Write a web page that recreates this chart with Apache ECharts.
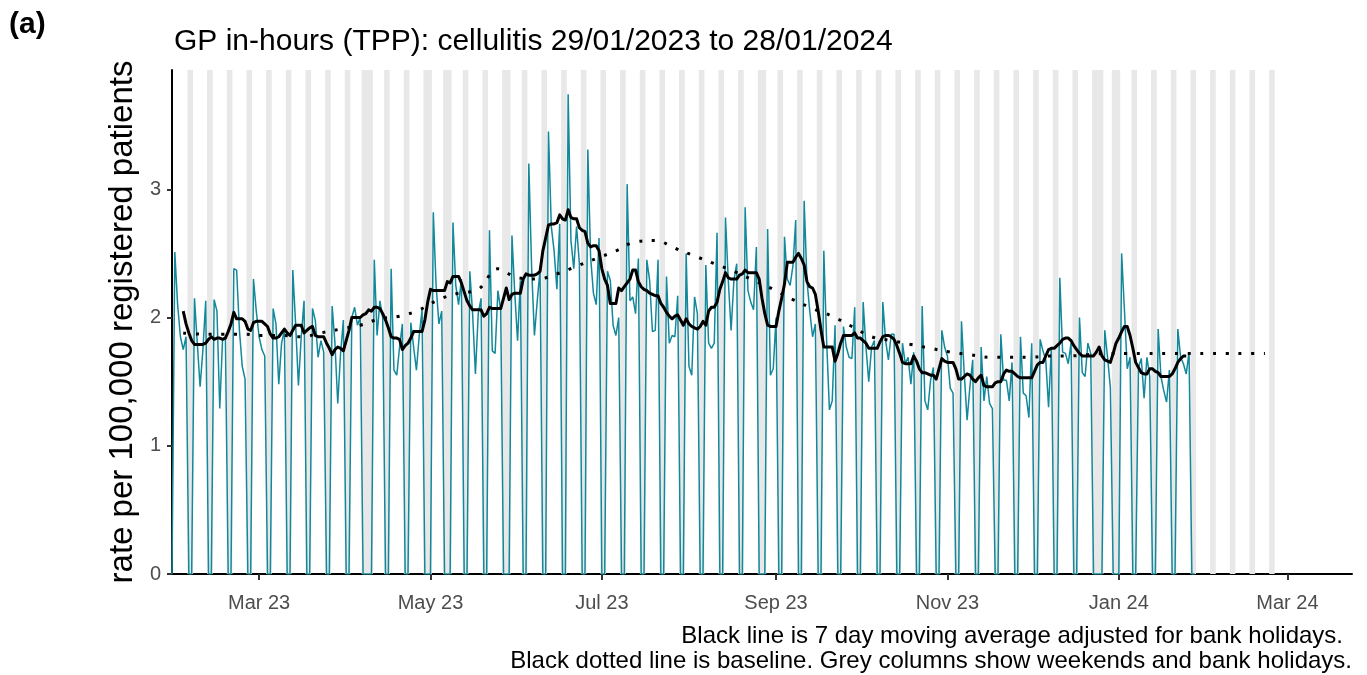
<!DOCTYPE html>
<html>
<head>
<meta charset="utf-8">
<script src="https://cdn.jsdelivr.net/npm/echarts@6/dist/echarts.min.js"></script>
<style>
  html, body { margin: 0; padding: 0; background: #fff; }
  #chart { width: 1367px; height: 675px; }
</style>
</head>
<body>
<div id="chart"></div>
<script>
// daily rate per 100,000, one value per day from Sun 29/01/2023 (rows = Sun..Sat)
const dailyRate = [
  0, 2.51, 2.10, 1.85, 1.75, 1.85, 0,
  0, 2.15, 1.80, 1.46, 1.75, 2.13, 0,
  0, 2.14, 2.05, 1.29, 1.83, 1.85, 0,
  0, 2.38, 2.37, 1.90, 1.62, 1.52, 0,
  0, 2.30, 2.05, 1.85, 1.75, 1.70, 0,
  0, 2.07, 1.95, 1.48, 1.80, 1.90, 0,
  0, 2.37, 1.95, 1.47, 1.85, 2.13, 0,
  0, 2.07, 1.98, 1.69, 1.82, 1.73, 0,
  0, 2.09, 1.80, 1.33, 1.72, 1.98, 0,
  0, 2.00, 2.08, 1.94, 2.00, 0, 0,
  0, 0, 2.45, 1.86, 2.13, 2.00, 0,
  0, 2.38, 1.59, 1.55, 1.77, 1.95, 0,
  0, 1.96, 1.77, 1.59, 1.86, 2.06, 0,
  0, 0, 2.82, 2.25, 1.95, 2.05, 0,
  0, 0, 2.74, 2.25, 2.10, 2.30, 0,
  0, 2.36, 2.03, 1.56, 2.03, 2.15, 0,
  0, 2.68, 1.74, 1.72, 2.21, 2.06, 0,
  0, 0, 2.64, 2.19, 1.82, 2.29, 0,
  0, 3.20, 2.39, 1.86, 2.13, 2.37, 0,
  0, 3.45, 2.71, 2.52, 2.22, 2.73, 0,
  0, 3.74, 2.60, 2.38, 2.71, 2.42, 0,
  0, 3.31, 2.47, 2.19, 2.10, 2.62, 0,
  0, 2.36, 2.29, 1.94, 1.86, 2.00, 0,
  0, 3.04, 2.13, 2.16, 2.03, 2.46, 0,
  0, 2.45, 2.29, 1.89, 1.90, 2.45, 0,
  0, 2.32, 1.80, 1.86, 1.85, 2.17, 0,
  0, 2.50, 1.62, 1.55, 2.16, 2.03, 0,
  0, 2.41, 1.80, 1.76, 1.80, 2.66, 0,
  0, 2.78, 2.29, 1.90, 2.29, 2.42, 0,
  0, 2.86, 2.21, 2.12, 2.06, 2.55, 0,
  0, 0, 2.69, 1.55, 1.60, 2.00, 0,
  0, 2.63, 2.30, 2.25, 2.40, 2.76, 0,
  0, 2.91, 2.29, 2.05, 1.85, 1.95, 0,
  0, 2.52, 1.82, 1.28, 1.35, 1.94, 0,
  0, 1.93, 1.77, 1.69, 1.68, 2.08, 0,
  0, 2.12, 1.77, 1.50, 1.77, 1.82, 0,
  0, 2.12, 1.82, 1.67, 1.87, 1.87, 0,
  0, 1.80, 1.64, 1.69, 1.48, 1.73, 0,
  0, 2.09, 1.35, 1.28, 1.51, 1.61, 0,
  0, 1.90, 1.77, 1.70, 1.45, 1.41, 0,
  0, 1.97, 1.56, 1.20, 1.46, 1.67, 0,
  0, 1.77, 1.35, 1.54, 1.33, 1.29, 0,
  0, 1.87, 1.51, 1.51, 1.35, 1.65, 0,
  0, 1.85, 1.41, 1.39, 1.22, 1.80, 0,
  0, 1.83, 1.74, 1.67, 1.30, 1.77, 0,
  0, 2.31, 1.73, 1.72, 1.64, 1.80, 0,
  0, 2.00, 1.57, 1.54, 1.80, 1.72, 0,
  0, 0, 0, 1.90, 1.69, 1.45, 0,
  0, 0, 2.50, 2.06, 1.60, 1.69, 0,
  0, 1.61, 1.68, 1.37, 1.69, 1.54, 0,
  0, 1.91, 1.54, 1.43, 1.34, 1.59, 0,
  0, 1.91, 1.69, 1.64, 1.56, 1.73, 0,
  0
];

// 7 day moving average (adjusted for bank holidays), same days, null where not shown
const movingAvg = [
  null, null, null, null,
  2.05, 1.95, 1.88, 1.82, 1.79, 1.79, 1.79,
  1.79, 1.80, 1.83, 1.85, 1.83, 1.84, 1.84,
  1.83, 1.84, 1.89, 1.95, 2.04, 1.99, 1.99,
  1.99, 1.97, 1.91, 1.90, 1.96, 1.97, 1.97,
  1.97, 1.95, 1.93, 1.87, 1.84, 1.84, 1.85,
  1.88, 1.91, 1.88, 1.86, 1.90, 1.94, 1.94,
  1.94, 1.88, 1.90, 1.92, 1.93, 1.86, 1.85,
  1.85, 1.85, 1.80, 1.76, 1.71, 1.75, 1.77,
  1.76, 1.74, 1.82, 1.90, 2.00, 2.00, 2.00,
  2.00, 2.02, 2.03, 2.06, 2.05, 2.08, 2.08,
  2.07, 2.03, 1.98, 1.92, 1.85, 1.84, 1.84,
  1.83, 1.75, 1.78, 1.80, 1.84, 1.89, 1.89,
  1.89, 1.89, 1.98, 2.12, 2.22, 2.21, 2.21,
  2.21, 2.21, 2.21, 2.28, 2.27, 2.32, 2.32,
  2.32, 2.27, 2.20, 2.13, 2.09, 2.06, 2.06,
  2.06, 2.06, 2.01, 2.03, 2.08, 2.07, 2.07,
  2.07, 2.07, 2.15, 2.23, 2.14, 2.18, 2.19,
  2.19, 2.19, 2.30, 2.34, 2.33, 2.33, 2.33,
  2.34, 2.36, 2.52, 2.62, 2.72, 2.73, 2.73,
  2.74, 2.80, 2.77, 2.76, 2.84, 2.78, 2.77,
  2.77, 2.70, 2.68, 2.67, 2.58, 2.55, 2.56,
  2.56, 2.52, 2.38, 2.30, 2.25, 2.11, 2.11,
  2.11, 2.23, 2.21, 2.24, 2.27, 2.30, 2.37,
  2.37, 2.28, 2.24, 2.22, 2.21, 2.19, 2.18,
  2.17, 2.17, 2.11, 2.08, 2.04, 2.01, 1.99,
  2.01, 2.02, 1.98, 1.94, 1.99, 1.95, 1.93,
  1.92, 1.91, 1.93, 1.97, 1.94, 2.05, 2.08,
  2.08, 2.12, 2.22, 2.28, 2.35, 2.31, 2.30,
  2.30, 2.30, 2.33, 2.34, 2.37, 2.35, 2.35,
  2.35, 2.35, 2.30, 2.15, 2.03, 1.94, 1.93,
  1.93, 1.93, 2.05, 2.15, 2.26, 2.43, 2.43,
  2.43, 2.47, 2.50, 2.46, 2.41, 2.28, 2.24,
  2.23, 2.18, 2.05, 1.90, 1.77, 1.77, 1.77,
  1.77, 1.66, 1.72, 1.80, 1.86, 1.86, 1.86,
  1.86, 1.88, 1.84, 1.84, 1.82, 1.80, 1.76,
  1.76, 1.76, 1.76, 1.81, 1.85, 1.86, 1.86,
  1.85, 1.83, 1.78, 1.72, 1.65, 1.64, 1.64,
  1.64, 1.70, 1.66, 1.60, 1.57, 1.57, 1.56,
  1.55, 1.55, 1.52, 1.60, 1.68, 1.66, 1.65,
  1.65, 1.65, 1.60, 1.52, 1.52, 1.54, 1.56,
  1.55, 1.52, 1.50, 1.53, 1.55, 1.47, 1.46,
  1.46, 1.46, 1.49, 1.50, 1.50, 1.56, 1.59,
  1.58, 1.58, 1.56, 1.54, 1.53, 1.53, 1.53,
  1.53, 1.53, 1.58, 1.63, 1.65, 1.65, 1.70,
  1.75, 1.76, 1.76, 1.78, 1.80, 1.83, 1.84,
  1.84, 1.82, 1.78, 1.75, 1.72, 1.70, 1.70,
  1.70, 1.70, 1.70, 1.73, 1.77, 1.70, 1.67,
  1.66, 1.65, 1.72, 1.80, 1.84, 1.89, 1.93,
  1.93, 1.86, 1.76, 1.65, 1.61, 1.57, 1.56,
  1.56, 1.60, 1.60, 1.58, 1.57, 1.54, 1.54,
  1.54, 1.54, 1.56, 1.60, 1.65, 1.68, 1.70,
  1.70, null, null, null
];

// baseline, weekly values from Thu 02/02/2023
const baselineRate = [
  1.88, 1.87, 1.87, 1.87, 1.86, 1.86, 1.85, 1.88, 1.91, 1.94,
  1.99, 2.01, 2.06, 2.14, 2.19, 2.22, 2.38, 2.31, 2.30, 2.34,
  2.40, 2.46, 2.52, 2.59, 2.60, 2.54, 2.48, 2.42, 2.36, 2.29,
  2.22, 2.14, 2.07, 2.01, 1.93, 1.85, 1.82, 1.79, 1.76, 1.73,
  1.71, 1.69, 1.69, 1.69, 1.70, 1.70, 1.71, 1.72, 1.72, 1.72,
  1.72, 1.72, 1.72, 1.72, 1.72, 1.72
];

const bankHolidays = [
  '2023-04-07', '2023-04-10', '2023-05-01', '2023-05-08', '2023-05-29',
  '2023-08-28', '2023-12-25', '2023-12-26', '2024-01-01'
];

const tickDates = ['2023-03-01', '2023-05-01', '2023-07-01', '2023-09-01', '2023-11-01', '2024-01-01', '2024-03-01'];
const tickLabels = ['Mar 23', 'May 23', 'Jul 23', 'Sep 23', 'Nov 23', 'Jan 24', 'Mar 24'];

const DAY = 86400000;
const dayTime = (i) => new Date(2023, 0, 29 + i).getTime();
const parseDate = (s) => {
  const p = s.split('-').map(Number);
  return new Date(p[0], p[1] - 1, p[2]).getTime();
};

const tickTimes = tickDates.map(parseDate);
const holidayTimes = bankHolidays.map(parseDate);

const tealData = dailyRate.map((v, i) => [dayTime(i), v]);
const maData = movingAvg.map((v, i) => [dayTime(i), v]);
const baseData = baselineRate.map((v, i) => [dayTime(4 + i * 7), v]);

// grey columns: weekends and bank holidays up to 25/02/2024
const greyRanges = [];
let open = null;
for (let i = 0; i <= 392; i++) {
  const t = dayTime(i);
  const wd = new Date(t).getDay();
  const grey = wd === 0 || wd === 6 || holidayTimes.indexOf(t) >= 0;
  if (grey && i >= 6) {
    if (open === null) open = t;
  } else if (open !== null) {
    greyRanges.push([{ xAxis: open - DAY / 2 }, { xAxis: dayTime(i - 1) + DAY / 2 }]);
    open = null;
  }
}
if (open !== null) greyRanges.push([{ xAxis: open - DAY / 2 }, { xAxis: dayTime(392) + DAY / 2 }]);

const chart = echarts.init(document.getElementById('chart'));

const font = 'Liberation Sans, Arial, sans-serif';

const option = {
  animation: false,
  backgroundColor: '#fff',
  textStyle: { fontFamily: font },
  title: [
    {
      text: 'GP in-hours (TPP): cellulitis 29/01/2023 to 28/01/2024',
      left: 169,
      top: 22,
      textStyle: { fontFamily: font, fontSize: 30, fontWeight: 'normal', color: '#000' }
    },
    {
      text: '(a)',
      left: 4,
      top: 5,
      textStyle: { fontFamily: font, fontSize: 30, fontWeight: 'bold', color: '#000' }
    }
  ],
  grid: { left: 172, right: 15, top: 70, bottom: 101 },
  xAxis: {
    type: 'value',
    min: dayTime(0),
    max: new Date(2024, 2, 24).getTime(),
    axisLine: { lineStyle: { color: '#000', width: 2 } },
    axisTick: { customValues: tickTimes, length: 6, lineStyle: { color: '#333', width: 2 } },
    axisLabel: {
      customValues: tickTimes,
      color: '#4d4d4d',
      fontSize: 20,
      margin: 19,
      formatter: function (val) {
        for (let i = 0; i < tickTimes.length; i++) {
          if (Math.abs(tickTimes[i] - val) < DAY) return tickLabels[i];
        }
        return '';
      }
    },
    splitLine: { show: false }
  },
  yAxis: {
    type: 'value',
    min: 0,
    max: 3.93,
    interval: 1,
    name: 'rate per 100,000 registered patients',
    nameLocation: 'middle',
    nameGap: 28,
    nameTextStyle: { fontFamily: font, fontSize: 33, color: '#000' },
    axisLine: { show: true, lineStyle: { color: '#000', width: 2 } },
    axisTick: { show: true, length: 5, lineStyle: { color: '#333', width: 2 } },
    axisLabel: { color: '#4d4d4d', fontSize: 20, margin: 11, showMaxLabel: false },
    splitLine: { show: false }
  },
  series: [
    {
      name: 'weekends',
      type: 'line',
      data: [],
      z: 1,
      silent: true,
      markArea: {
        silent: true,
        itemStyle: { color: '#e8e8e8' },
        data: greyRanges
      }
    },
    {
      name: 'daily',
      type: 'line',
      data: tealData,
      z: 2,
      showSymbol: false,
      lineStyle: { color: '#13889a', width: 1.5 },
      silent: true
    },
    {
      name: 'baseline',
      type: 'line',
      data: baseData,
      z: 3,
      smooth: 0.4,
      showSymbol: false,
      lineStyle: { color: '#000', width: 3, type: [3, 9.7] },
      silent: true
    },
    {
      name: 'moving average',
      type: 'line',
      data: maData,
      z: 4,
      showSymbol: false,
      connectNulls: false,
      lineStyle: { color: '#000', width: 3, join: 'round' },
      silent: true
    }
  ],
  graphic: [
    {
      type: 'text',
      right: 24,
      top: 624,
      style: {
        text: 'Black line is 7 day moving average adjusted for bank holidays.',
        fontFamily: font,
        fontSize: 24,
        fill: '#000'
      }
    },
    {
      type: 'text',
      right: 15,
      top: 649,
      style: {
        text: 'Black dotted line is baseline. Grey columns show weekends and bank holidays.',
        fontFamily: font,
        fontSize: 24,
        fill: '#000'
      }
    }
  ]
};

chart.setOption(option);
</script>
</body>
</html>
